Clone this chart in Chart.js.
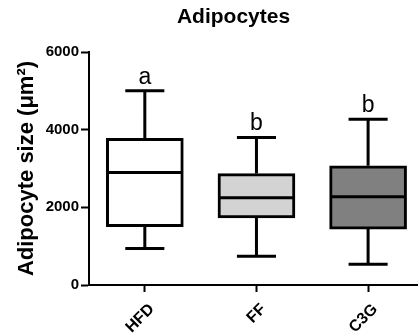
<!DOCTYPE html>
<html>
<head>
<meta charset="utf-8">
<script src="https://cdn.jsdelivr.net/npm/chart.js@4/dist/chart.umd.min.js"></script>
<style>
  html, body { margin: 0; padding: 0; background: #fff; }
  #wrap { width: 418px; height: 335px; }
</style>
</head>
<body>
<div id="wrap"><canvas id="c" width="418" height="335"></canvas></div>
<script>
// Adipocyte size per diet group (µm²): box plot summary values
const groups   = ['HFD', 'FF', 'C3G'];
const minVals  = [940, 740, 533];
const q1Vals   = [1500, 1730, 1440];
const medians  = [2900, 2250, 2270];
const q3Vals   = [3780, 2870, 3070];
const maxVals  = [5000, 3800, 4270];
const sigLetters = ['a', 'b', 'b'];
const yTicks   = [0, 2000, 4000, 6000];

const boxFills = ['#ffffff', '#d3d3d3', '#808080'];
const FONT = '"Liberation Sans", Arial, Helvetica, sans-serif';
const CAP_HALF = 0.175;    // half width of whisker caps, in category units
const MED_HALF = 0.335;    // half width of the median bar

const pos = groups.map((g, i) => i + 1);

// line segments separated by null points so each piece is drawn on its own
function segments(pairs) {
  const out = [];
  pairs.forEach(([a, b], k) => {
    if (k > 0) out.push({ x: a.x, y: null });
    out.push(a, b);
  });
  return out;
}

const whiskers = segments(pos.flatMap((x, i) => [
  [{ x, y: q3Vals[i] }, { x, y: maxVals[i] }],
  [{ x, y: minVals[i] }, { x, y: q1Vals[i] }]
]));
const caps = segments(pos.flatMap((x, i) => [
  [{ x: x - CAP_HALF, y: maxVals[i] }, { x: x + CAP_HALF, y: maxVals[i] }],
  [{ x: x - CAP_HALF, y: minVals[i] }, { x: x + CAP_HALF, y: minVals[i] }]
]));
const medianLines = segments(pos.map((x, i) =>
  [{ x: x - MED_HALF, y: medians[i] }, { x: x + MED_HALF, y: medians[i] }]
));

const lineStyle = {
  type: 'line', borderColor: '#000', borderWidth: 3, pointRadius: 0,
  borderCapStyle: 'butt', spanGaps: false, fill: false, order: 1
};

// chart heading and significance letters above the whiskers
const annotations = {
  id: 'annotations',
  afterDatasetsDraw(chart) {
    const { ctx, scales: { x, y } } = chart;
    ctx.save();
    ctx.fillStyle = '#000';
    ctx.textAlign = 'center';
    ctx.textBaseline = 'alphabetic';
    ctx.font = '23px ' + FONT;
    sigLetters.forEach((t, i) => {
      ctx.fillText(t, x.getPixelForValue(pos[i]), y.getPixelForValue(maxVals[i]) - 7);
    });
    ctx.font = 'bold 21px ' + FONT;
    ctx.fillText('Adipocytes', 233.5, 23);
    ctx.restore();
  }
};

new Chart(document.getElementById('c'), {
  data: {
    datasets: [
      { ...lineStyle, label: 'whiskers', data: whiskers },
      { ...lineStyle, label: 'caps', data: caps },
      { ...lineStyle, label: 'median', data: medianLines },
      {
        type: 'bar', label: 'IQR',
        data: pos.map((x, i) => ({ x, y: [q1Vals[i], q3Vals[i]] })),
        backgroundColor: boxFills, borderColor: '#000', borderWidth: 3,
        borderSkipped: false, barThickness: 77, order: 2
      }
    ]
  },
  options: {
    responsive: false,
    animation: false,
    events: [],
    layout: { padding: { top: 52, right: 0, bottom: 0, left: 0 } },
    plugins: { legend: { display: false }, tooltip: { enabled: false } },
    scales: {
      x: {
        type: 'linear', min: 0.5, max: 3.447, offset: false,
        afterBuildTicks(s) { s.ticks = pos.map(v => ({ value: v })); },
        afterFit(s) { s.height = 50; },
        ticks: {
          callback: v => groups[v - 1],
          color: '#000', font: { family: FONT, size: 16, weight: 'bold' },
          maxRotation: 45, minRotation: 45, padding: 8, labelOffset: 7, autoSkip: false
        },
        grid: { offset: false, drawOnChartArea: false, tickLength: 7, tickWidth: 2, tickColor: '#000' },
        border: { display: true, color: '#000', width: 2 }
      },
      y: {
        min: 0, max: 6000,
        afterBuildTicks(s) { s.ticks = yTicks.map(v => ({ value: v })); },
        afterFit(s) { s.width = 89; },
        ticks: {
          callback: v => String(v),
          color: '#000', font: { family: FONT, size: 15, weight: 'bold' }, padding: 2
        },
        grid: { drawOnChartArea: false, tickLength: 8, tickWidth: 2, tickColor: '#000' },
        border: { display: true, color: '#000', width: 2 },
        title: {
          display: true, text: 'Adipocyte size (μm²)', color: '#000',
          font: { family: FONT, size: 22, weight: 'bold' },
          padding: { top: 14, bottom: 0 }
        }
      }
    }
  },
  plugins: [annotations]
});
</script>
</body>
</html>
